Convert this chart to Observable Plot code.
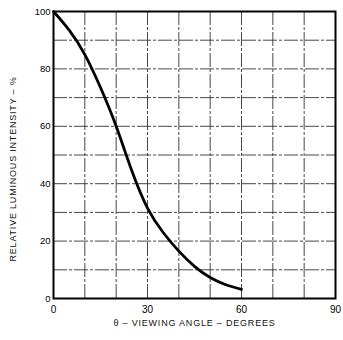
<!DOCTYPE html>
<html>
<head>
<meta charset="utf-8">
<script src="https://cdn.jsdelivr.net/npm/d3@7"></script>
<script src="https://cdn.jsdelivr.net/npm/@observablehq/plot@0.6"></script>
<style>
  body { margin: 0; background: #fff; }
  #chart { position: relative; width: 343px; height: 340px; }
</style>
</head>
<body>
<div id="chart"></div>
<script>
const angles = [0, 5, 10, 15, 20, 25, 30, 35, 40, 45, 50, 55, 60];
const intensity = [100, 93.5, 85, 73.5, 60, 44.5, 31.5, 23, 16.5, 11.2, 7.3, 4.8, 3.2];
const xTicks = [0, 30, 60, 90];
const yTicks = [0, 20, 40, 60, 80, 100];
const gridX = [10, 20, 30, 40, 50, 60, 70, 80];
const gridY = [10, 20, 30, 40, 50, 60, 70, 80, 90];
const xLabel = "θ – VIEWING ANGLE – DEGREES";
const yLabel = "RELATIVE LUMINOUS INTENSITY – %";

const data = angles.map((a, i) => ({angle: a, value: intensity[i]}));

const chart = Plot.plot({
  width: 343,
  height: 340,
  marginLeft: 53,
  marginRight: 8,
  marginTop: 11,
  marginBottom: 42,
  style: {fontFamily: "Liberation Sans, Arial, sans-serif", fontSize: "9px", background: "white"},
  x: {domain: [0, 90], axis: null},
  y: {domain: [0, 100], axis: null},
  marks: [
    Plot.ruleX(gridX, {stroke: "#333", strokeWidth: 0.9, strokeDasharray: "14,2,3,2"}),
    Plot.ruleY(gridY, {stroke: "#333", strokeWidth: 0.9, strokeDasharray: "14,2,3,2"}),
    Plot.frame({stroke: "black", strokeWidth: 2}),
    Plot.line(data, {x: "angle", y: "value", curve: "natural", stroke: "black", strokeWidth: 2.8}),
    Plot.axisX(xTicks, {tickSize: 0, tickPadding: 7, fontSize: 10, label: null}),
    Plot.axisY(yTicks, {tickSize: 0, tickPadding: 3, fontSize: 9.5, label: null}),
    Plot.text([xLabel], {frameAnchor: "bottom", dy: 27, fontSize: 9, fill: "#111",
      text: d => d}),
    Plot.text([yLabel], {frameAnchor: "left", textAnchor: "middle", dx: -40, dy: 14, rotate: -90, fontSize: 9, fill: "#111",
      text: d => d})
  ]
});
document.getElementById("chart").appendChild(chart);
d3.select(chart).selectAll("text").filter(function(){ return this.textContent.length > 10; })
  .style("letter-spacing", "0.8px");
</script>
</body>
</html>
